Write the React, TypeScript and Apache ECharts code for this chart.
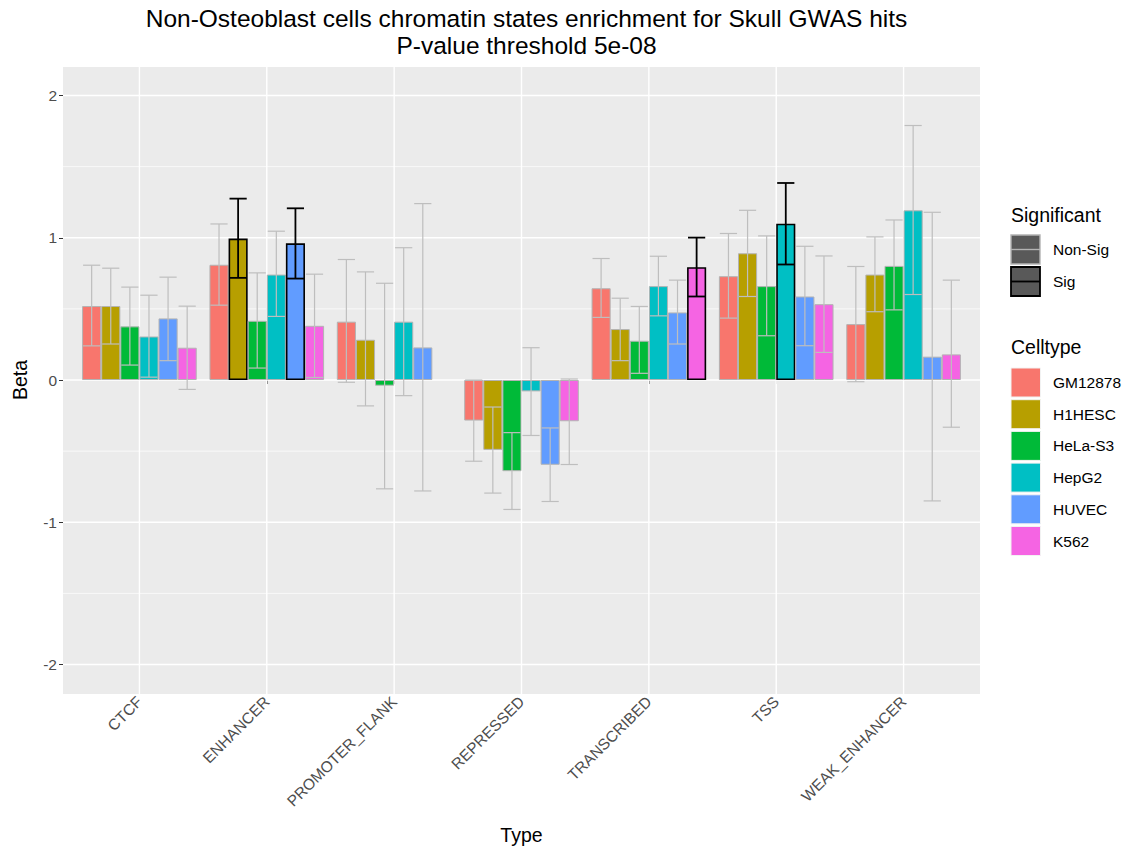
import React, { useEffect, useRef } from "react";
import * as echarts from "echarts";

const categories = ["CTCF", "ENHANCER", "PROMOTER_FLANK", "REPRESSED", "TRANSCRIBED", "TSS", "WEAK_ENHANCER"];
const cellTypes = ["GM12878", "H1HESC", "HeLa-S3", "HepG2", "HUVEC", "K562"];
const cellColors = ["#F8766D", "#B79F00", "#00BA38", "#00BFC4", "#619CFF", "#F564E3"];

const betaGM12878 = [0.52, 0.81, 0.41, -0.285, 0.645, 0.73, 0.393];
const lowerGM12878 = [0.24, 0.526, -0.016, -0.571, 0.44, 0.435, -0.012];
const upperGM12878 = [0.807, 1.097, 0.847, 0.0, 0.854, 1.03, 0.798];

const betaH1HESC = [0.52, 0.994, 0.283, -0.491, 0.358, 0.891, 0.741];
const lowerH1HESC = [0.253, 0.718, -0.182, -0.795, 0.136, 0.587, 0.48];
const upperH1HESC = [0.786, 1.275, 0.76, -0.19, 0.575, 1.193, 1.006];

const betaHeLa = [0.377, 0.416, -0.04, -0.641, 0.276, 0.66, 0.802];
const lowerHeLa = [0.105, 0.084, -0.765, -0.91, 0.047, 0.311, 0.493];
const upperHeLa = [0.653, 0.753, 0.68, -0.37, 0.517, 1.013, 1.125];

const betaHepG2 = [0.306, 0.741, 0.41, -0.08, 0.66, 1.099, 1.193];
const lowerHepG2 = [0.02, 0.447, -0.11, -0.39, 0.451, 0.812, 0.601];
const upperHepG2 = [0.596, 1.046, 0.93, 0.227, 0.87, 1.385, 1.789];

const betaHUVEC = [0.433, 0.961, 0.229, -0.596, 0.475, 0.587, 0.164];
const lowerHUVEC = [0.136, 0.713, -0.78, -0.854, 0.253, 0.241, -0.85];
const upperHUVEC = [0.723, 1.207, 1.24, -0.337, 0.702, 0.94, 1.179];

const betaK562 = [0.227, 0.381, null, -0.29, 0.793, 0.533, 0.18];
const lowerK562 = [-0.066, 0.018, null, -0.594, 0.587, 0.194, -0.332];
const upperK562 = [0.519, 0.744, null, 0.007, 1.001, 0.872, 0.702];

// 1 = significant (Sig), 0 = Non-Sig
const sigGM12878 = [0, 0, 0, 0, 0, 0, 0];
const sigH1HESC = [0, 1, 0, 0, 0, 0, 0];
const sigHeLa = [0, 0, 0, 0, 0, 0, 0];
const sigHepG2 = [0, 0, 0, 0, 0, 1, 0];
const sigHUVEC = [0, 1, 0, 0, 0, 0, 0];
const sigK562 = [0, 0, 0, 0, 1, 0, 0];

const betas = [betaGM12878, betaH1HESC, betaHeLa, betaHepG2, betaHUVEC, betaK562];
const lowers = [lowerGM12878, lowerH1HESC, lowerHeLa, lowerHepG2, lowerHUVEC, lowerK562];
const uppers = [upperGM12878, upperH1HESC, upperHeLa, upperHepG2, upperHUVEC, upperK562];
const sigs = [sigGM12878, sigH1HESC, sigHeLa, sigHepG2, sigHUVEC, sigK562];

const yTicks = [-2, -1, 0, 1, 2];
const yMinorTicks = [-1.5, -0.5, 0.5, 1.5];
const sigLabels = ["Non-Sig", "Sig"];

const FONT = "'Liberation Sans', Arial, Helvetica, sans-serif";
const GREY = "#B3B3B3";
const AXIS_TEXT = 15.5;
const TITLE_TEXT = 19.5;

export default function App() {
  const ref = useRef<HTMLDivElement>(null);
  useEffect(() => {
    document.body.style.margin = "0";
    if (!ref.current) return;
    const chart = echarts.init(ref.current, null, { renderer: "svg" });

    const panel = { left: 63, top: 67, width: 917, height: 627 };
    const unitX = panel.width / 7.2;
    const unitY = panel.height / 4.4;
    const gridLeft = panel.left + 0.1 * unitX;
    const gridWidth = 7 * unitX;
    const gridTop = panel.top + 0.2 * unitY;
    const gridHeight = 4 * unitY;

    const barSeries = cellTypes.map((name, ci) => ({
      name,
      type: "bar",
      barGap: "0%",
      barCategoryGap: "10%",
      z: 2,
      itemStyle: { color: cellColors[ci], borderColor: GREY, borderWidth: 1 },
      data: betas[ci].map((v, k) =>
        v === null
          ? "-"
          : {
              value: v,
              itemStyle: sigs[ci][k]
                ? { borderColor: "#000000", borderWidth: 1.6 }
                : { borderColor: GREY, borderWidth: 1 },
            }
      ),
    }));

    const errData: any[] = [];
    cellTypes.forEach((_, ci) => {
      categories.forEach((__, k) => {
        if (lowers[ci][k] === null) return;
        errData.push([k, ci, lowers[ci][k], uppers[ci][k], sigs[ci][k]]);
      });
    });

    const gridData: any[] = [];
    yTicks.forEach((v) => gridData.push([0, v, 0]));
    yMinorTicks.forEach((v) => gridData.push([0, v, 1]));
    categories.forEach((_, k) => gridData.push([k, 0, 2]));

    const option: any = {
      animation: false,
      textStyle: { fontFamily: FONT },
      title: {
        text: "Non-Osteoblast cells chromatin states enrichment for Skull GWAS hits\nP-value threshold 5e-08",
        left: panel.left + panel.width / 2,
        textAlign: "center",
        top: 0,
        textStyle: { fontSize: 24.5, fontWeight: "normal", color: "#000", lineHeight: 27, fontFamily: FONT },
      },
      grid: { left: gridLeft, top: gridTop, width: gridWidth, height: gridHeight, containLabel: false },
      xAxis: {
        type: "category",
        data: categories,
        offset: 0.2 * unitY,
        axisLine: { show: false },
        axisTick: { show: true, alignWithLabel: true, length: 4, lineStyle: { color: "#333333", width: 1 } },
        axisLabel: { rotate: 45, fontSize: AXIS_TEXT, color: "#4D4D4D", margin: 6, fontFamily: FONT, interval: 0 },
        splitLine: { show: false },
        name: "Type",
        nameLocation: "middle",
        nameGap: 132,
        nameTextStyle: { fontSize: TITLE_TEXT, color: "#000", fontFamily: FONT },
      },
      yAxis: {
        type: "value",
        min: -2,
        max: 2,
        interval: 1,
        offset: 0.1 * unitX,
        axisLine: { show: false },
        axisTick: { show: true, length: 4, lineStyle: { color: "#333333", width: 1 } },
        axisLabel: { fontSize: AXIS_TEXT, color: "#4D4D4D", margin: 6, fontFamily: FONT },
        splitLine: { show: false },
        name: "Beta",
        nameLocation: "middle",
        nameGap: 33,
        nameTextStyle: { fontSize: TITLE_TEXT, color: "#000", fontFamily: FONT },
      },
      graphic: [
        {
          type: "rect",
          z: -10,
          silent: true,
          shape: { x: panel.left, y: panel.top, width: panel.width, height: panel.height },
          style: { fill: "#EBEBEB" },
        },
        // Significant legend
        { type: "text", x: 1011, y: 215, style: { text: "Significant", fontSize: TITLE_TEXT, fill: "#000", fontFamily: FONT, verticalAlign: "middle" } },
        ...sigLabels.flatMap((lab, i) => {
          const y0 = 235 + i * 32;
          const stroke = i === 1 ? "#000000" : GREY;
          const lw = i === 1 ? 1.8 : 1.4;
          return [
            { type: "rect", shape: { x: 1011, y: y0, width: 29, height: 29 }, style: { fill: "#595959", stroke, lineWidth: lw } },
            { type: "line", shape: { x1: 1011, y1: y0 + 14.5, x2: 1040, y2: y0 + 14.5 }, style: { stroke, lineWidth: lw } },
            { type: "text", x: 1053, y: y0 + 14.5, style: { text: lab, fontSize: AXIS_TEXT, fill: "#000", fontFamily: FONT, verticalAlign: "middle" } },
          ];
        }),
        // Celltype legend
        { type: "text", x: 1011, y: 347, style: { text: "Celltype", fontSize: TITLE_TEXT, fill: "#000", fontFamily: FONT, verticalAlign: "middle" } },
        ...cellTypes.flatMap((lab, i) => {
          const y0 = 368 + i * 31.7;
          return [
            { type: "rect", shape: { x: 1011, y: y0, width: 29.5, height: 29 }, style: { fill: cellColors[i], stroke: "#F2F2F2", lineWidth: 1 } },
            { type: "text", x: 1053, y: y0 + 14.5, style: { text: lab, fontSize: AXIS_TEXT, fill: "#000", fontFamily: FONT, verticalAlign: "middle" } },
          ];
        }),
      ],
      series: [
        {
          type: "custom",
          name: "gridlines",
          z: 1,
          silent: true,
          clip: false,
          encode: { x: 0, y: 1 },
          data: gridData,
          renderItem: (params: any, api: any) => {
            const kind = api.value(2);
            if (kind === 2) {
              const x = api.coord([api.value(0), 0])[0];
              return {
                type: "line",
                shape: { x1: x, y1: panel.top, x2: x, y2: panel.top + panel.height },
                style: { stroke: "#FFFFFF", lineWidth: 1.4 },
              };
            }
            const y = api.coord([0, api.value(1)])[1];
            return {
              type: "line",
              shape: { x1: panel.left, y1: y, x2: panel.left + panel.width, y2: y },
              style: { stroke: "#FFFFFF", lineWidth: kind === 0 ? 1.4 : 0.7 },
            };
          },
        },
        ...barSeries,
        {
          type: "custom",
          name: "errorbars",
          z: 5,
          silent: true,
          clip: false,
          encode: { x: 0, y: [2, 3] },
          data: errData,
          renderItem: (params: any, api: any) => {
            const cat = api.value(0);
            const cell = api.value(1);
            const lo = api.value(2);
            const hi = api.value(3);
            const sig = api.value(4);
            const band = api.size([1, 0])[0];
            const bw = (band * 0.9) / 6;
            const cx = api.coord([cat, 0])[0] + (cell - 2.5) * bw;
            const yLo = api.coord([cat, lo])[1];
            const yHi = api.coord([cat, hi])[1];
            const hw = bw * 0.45;
            const style = { stroke: sig ? "#000000" : "#BEBEBE", lineWidth: sig ? 1.8 : 1.2 };
            return {
              type: "group",
              children: [
                { type: "line", shape: { x1: cx, y1: yLo, x2: cx, y2: yHi }, style },
                { type: "line", shape: { x1: cx - hw, y1: yHi, x2: cx + hw, y2: yHi }, style },
                { type: "line", shape: { x1: cx - hw, y1: yLo, x2: cx + hw, y2: yLo }, style },
              ],
            };
          },
        },
      ],
    };

    chart.setOption(option);
    return () => chart.dispose();
  }, []);

  return <div ref={ref} style={{ width: 1130, height: 850 }} />;
}
